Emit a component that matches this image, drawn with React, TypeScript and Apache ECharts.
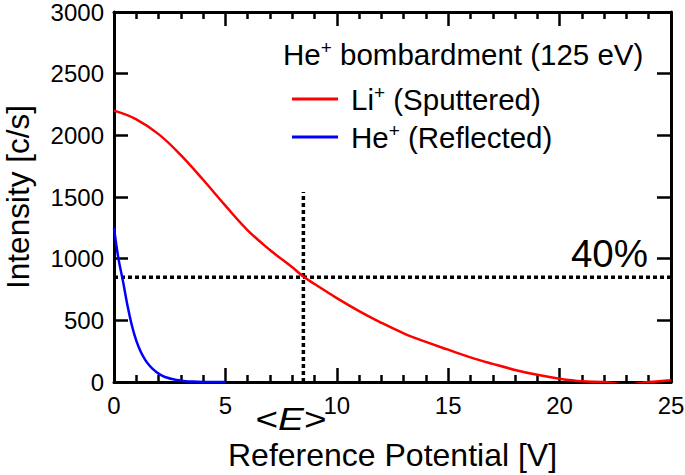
import React, { useEffect, useRef } from "react";
import * as echarts from "echarts";

const FONT = "'Liberation Sans', Arial, Helvetica, sans-serif";

// Reference potential [V] vs intensity [c/s]
const liSputtered: [number, number][] = [
  [0, 2200], [1, 2130], [2, 2010], [3, 1840], [4, 1640], [5, 1430], [6, 1230],
  [7, 1070], [8, 930], [8.5, 855], [9, 795], [10, 680], [11, 575], [12, 480],
  [13, 395], [14, 325], [15, 262], [16, 200], [17, 147], [18, 98], [19, 58],
  [20, 27], [21, 6], [22, 0], [23, -20], [24, 0], [25, 15],
];
const heReflected: [number, number][] = [
  [0, 1250], [0.2, 1000], [0.4, 820], [0.6, 625], [0.8, 460], [1.0, 335],
  [1.2, 245], [1.4, 180], [1.6, 132], [1.8, 96], [2.0, 68], [2.2, 48],
  [2.4, 34], [2.6, 24], [2.8, 17], [3.0, 11], [3.2, 7], [3.5, 4], [4.0, 1],
  [4.5, 0], [5.0, 0],
];
const level40: [number, number][] = [[0, 850], [25, 850]];
const meanEnergy: [number, number][] = [[8.5, 0], [8.5, 1540]];

const seriesNames = ["Li+ (Sputtered)", "He+ (Reflected)"];
const xRange = { min: 0, max: 25, interval: 5 };
const yRange = { min: 0, max: 3000, interval: 500 };

export default function App() {
  const ref = useRef<HTMLDivElement>(null);
  useEffect(() => {
    if (!ref.current) return;
    const chart = echarts.init(ref.current, null, { renderer: "svg" });
    const axisLine = { show: true, onZero: false, lineStyle: { color: "#000", width: 3 } };
    const tick = { show: true, inside: true, length: 14, lineStyle: { color: "#000", width: 2.5 } };
    const minor = { show: true, splitNumber: 5, length: 7, lineStyle: { color: "#000", width: 2.5 } };
    const supRich = {
      a: { fontSize: 29.5, fontFamily: FONT, color: "#000", lineHeight: 32 },
      sup: { fontSize: 19, fontFamily: FONT, color: "#000", verticalAlign: "top", lineHeight: 18 },
      sp: { width: 8 },
    };
    chart.setOption({
      animation: false,
      backgroundColor: "#fff",
      grid: {
        left: 114, right: 14, top: 12, bottom: 93,
        containLabel: false, outerBoundsMode: "none",
      },
      xAxis: [
        {
          type: "value", ...xRange, position: "bottom",
          name: "Reference Potential [V]", nameLocation: "middle", nameGap: 59,
          nameTextStyle: { fontSize: 32, fontFamily: FONT, color: "#000", lineHeight: 28 },
          axisLine, axisTick: tick, minorTick: minor, splitLine: { show: false },
          axisLabel: { fontSize: 24, fontFamily: FONT, color: "#000", margin: 11 },
        },
        {
          type: "value", ...xRange, position: "top",
          axisLine, axisTick: tick, minorTick: minor, splitLine: { show: false },
          axisLabel: { show: false },
        },
      ],
      yAxis: [
        {
          type: "value", ...yRange, position: "left",
          name: "Intensity [c/s]", nameLocation: "middle", nameGap: 81,
          nameTextStyle: { fontSize: 31.5, fontFamily: FONT, color: "#000", lineHeight: 30 },
          axisLine, axisTick: tick, splitLine: { show: false },
          axisLabel: {
            fontSize: 24, fontFamily: FONT, color: "#000", margin: 10,
            formatter: (v: number) => String(v),
          },
        },
        {
          type: "value", ...yRange, position: "right",
          axisLine, axisTick: tick, splitLine: { show: false },
          axisLabel: { show: false },
        },
      ],
      legend: {
        orient: "vertical", left: 287, top: 78, itemWidth: 46, itemHeight: 3, itemGap: 7,
        icon: "rect", data: seriesNames,
        formatter: (name: string) => {
          const [head, rest] = name.split("+");
          return `{sp|}{a|${head}}{sup|+}{a|${rest}}`;
        },
        textStyle: { fontSize: 29.5, fontFamily: FONT, color: "#000", rich: supRich },
      },
      graphic: [
        {
          type: "text", x: 283, y: 38,
          style: {
            text: "{a|He}{sup|+}{a| bombardment (125 eV)}",
            rich: supRich, fill: "#000", font: `29.5px ${FONT}`,
          },
        },
        {
          type: "text", x: 648, y: 253,
          style: {
            text: "40%", fill: "#000", font: `38.5px ${FONT}`,
            textAlign: "right", textVerticalAlign: "middle",
          },
        },
        {
          type: "text", x: 291, y: 419, scaleX: 1.25,
          style: {
            text: "{n|<}{i|E}{n|>}",
            rich: {
              n: { fontSize: 31, fontFamily: FONT, color: "#000", lineHeight: 26 },
              i: { fontSize: 31, fontFamily: FONT, fontStyle: "italic", color: "#000", lineHeight: 26 },
            },
            textAlign: "center", textVerticalAlign: "middle",
          },
        },
      ],
      series: [
        {
          name: "40% level", type: "line", data: level40, symbol: "none", silent: true,
          lineStyle: { color: "#000", width: 3.5, type: [4, 3] }, z: 1,
        },
        {
          name: "<E>", type: "line", data: meanEnergy, symbol: "none", silent: true,
          lineStyle: { color: "#000", width: 3.5, type: [4, 3] }, z: 1,
        },
        {
          name: seriesNames[0], type: "line", data: liSputtered, symbol: "none", smooth: 0.4,
          clip: true, color: "#ff0000", lineStyle: { color: "#ff0000", width: 2.5 }, z: 3,
        },
        {
          name: seriesNames[1], type: "line", data: heReflected, symbol: "none", smooth: 0.4,
          clip: true, color: "#0000ff", lineStyle: { color: "#0000ff", width: 2.5 }, z: 3,
        },
      ],
    });
    return () => chart.dispose();
  }, []);
  return (
    <div
      ref={ref}
      style={{ position: "absolute", left: 0, top: 0, width: 685, height: 475 }}
    />
  );
}
